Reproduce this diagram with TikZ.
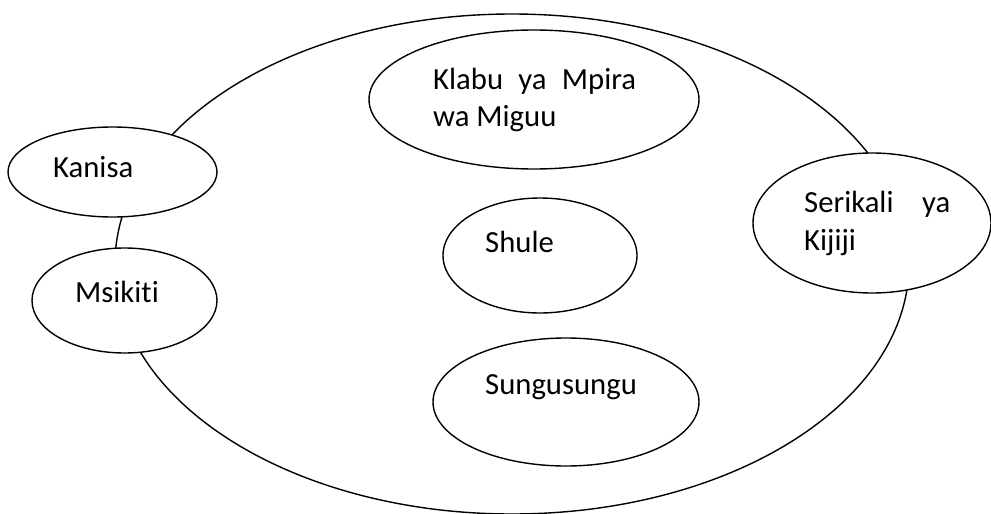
\documentclass[tikz,border=0pt]{standalone}
\usepackage{fontspec}
\setmainfont{Carlito}[RawFeature={-liga}]
\usetikzlibrary{shapes.geometric}
\begin{document}
\begin{tikzpicture}[x=1pt,y=-1pt,
  oval/.style={draw, ellipse, line width=1.4pt, fill=white, inner sep=0pt, outer sep=0pt},
  lbl/.style={anchor=base west, inner sep=0pt, font=\fontsize{30.7}{37.5}\selectfont}]
\useasboundingbox (0,0) rectangle (991,514);
\node[oval, fill=none, minimum width=794pt, minimum height=500pt] (jamii) at (512,264) {};
\node[oval, minimum width=209pt, minimum height=90pt] (kanisa) at (112.5,172) {};
\node[oval, minimum width=185pt, minimum height=105pt] (msikiti) at (124.5,300.5) {};
\node[oval, minimum width=330pt, minimum height=139pt] (klabu) at (534,99.5) {};
\node[oval, minimum width=194pt, minimum height=115pt] (shule) at (540,255.5) {};
\node[oval, minimum width=266pt, minimum height=128pt] (sungu) at (566,402) {};
\node[oval, minimum width=238pt, minimum height=140pt] (serikali) at (872,223) {};
\node[lbl] (tkanisa) at (53,177) {Kanisa};
\node[lbl] (tmsikiti) at (75,302) {Msikiti};
\node[lbl] (tklabu1) at (433,89) {\hbox to 203pt{Klabu\hfill ya\hfill Mpira}};
\node[lbl] (tklabu2) at (433,126) {wa Miguu};
\node[lbl] (tshule) at (485,252) {Shule};
\node[lbl] (tsungu) at (485,394) {Sungusungu};
\node[lbl] (tserikali1) at (804,212) {\hbox to 146pt{Serikali\hfill ya}};
\node[lbl] (tserikali2) at (804,250) {Kijiji};
\end{tikzpicture}
\end{document}
